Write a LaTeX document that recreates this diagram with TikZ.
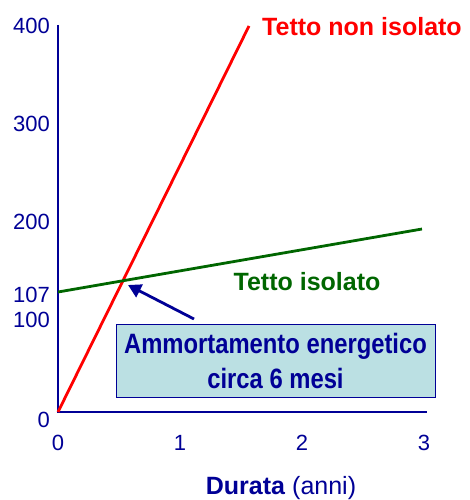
\documentclass[tikz,border=0pt]{standalone}
\usepackage{fontspec}
\setmainfont{Liberation Sans}
\newfontfamily\narrowfont[FakeStretch=0.85]{Liberation Sans}
\usetikzlibrary{arrows.meta}
\definecolor{axisblue}{RGB}{0,0,150}
\definecolor{roofgreen}{RGB}{0,102,0}
\definecolor{boxfill}{RGB}{187,224,227}
\tikzset{
  ticklabel/.style = {text = axisblue, font = \fontsize{22}{26}\selectfont, inner sep = 0pt},
  curvelabel/.style = {font = \bfseries\fontsize{25}{30}\selectfont, inner sep = 0pt}
}
\begin{document}
\begin{tikzpicture}[x = 1pt, y = -1pt]
\useasboundingbox (0,0) rectangle (469,500);
\pgfmathsetmacro\xstep{122};
\coordinate (origin) at (58,412);
\draw [axisblue, line width = 1.5pt] (58,25) -- (origin) -- (427,412);
\foreach \v/\y in {400/26, 300/124, 200/222, 107/295, 100/320, 0/420} \node [ticklabel, anchor = east] (y\v) at (50,\y) {\v};
\foreach \n in {0,...,3} \node [ticklabel] (x\n) at (58+\xstep*\n,443) {\n};
\node [text = axisblue, font = \fontsize{25}{30}\selectfont, inner sep = 0pt] (xtitle) at (281,488) {\textbf{Durata} (anni)};
\draw [red, line width = 2.8pt] (origin) -- (249,26);
\draw [roofgreen, line width = 2.8pt] (58,292) -- (422,229);
\node [curvelabel, text = red] (uninsulated) at (362,27) {Tetto non isolato};
\node [curvelabel, text = roofgreen] (insulated) at (307,282) {Tetto isolato};
\node [draw = axisblue, fill = boxfill, line width = 1pt, minimum width = 319pt, minimum height = 73pt, align = center, text = axisblue, font = \narrowfont\bfseries\fontsize{28}{35}\selectfont, inner sep = 0pt] (payback) at (275.5,360.5) {Ammortamento energetico\\circa 6 mesi};
\coordinate (tail) at (194,319);
\coordinate (crossing) at (128,285);
\draw [axisblue, line width = 2.8pt, -{Triangle[length = 13pt, width = 14pt]}] (tail) -- (crossing);
\end{tikzpicture}
\end{document}
